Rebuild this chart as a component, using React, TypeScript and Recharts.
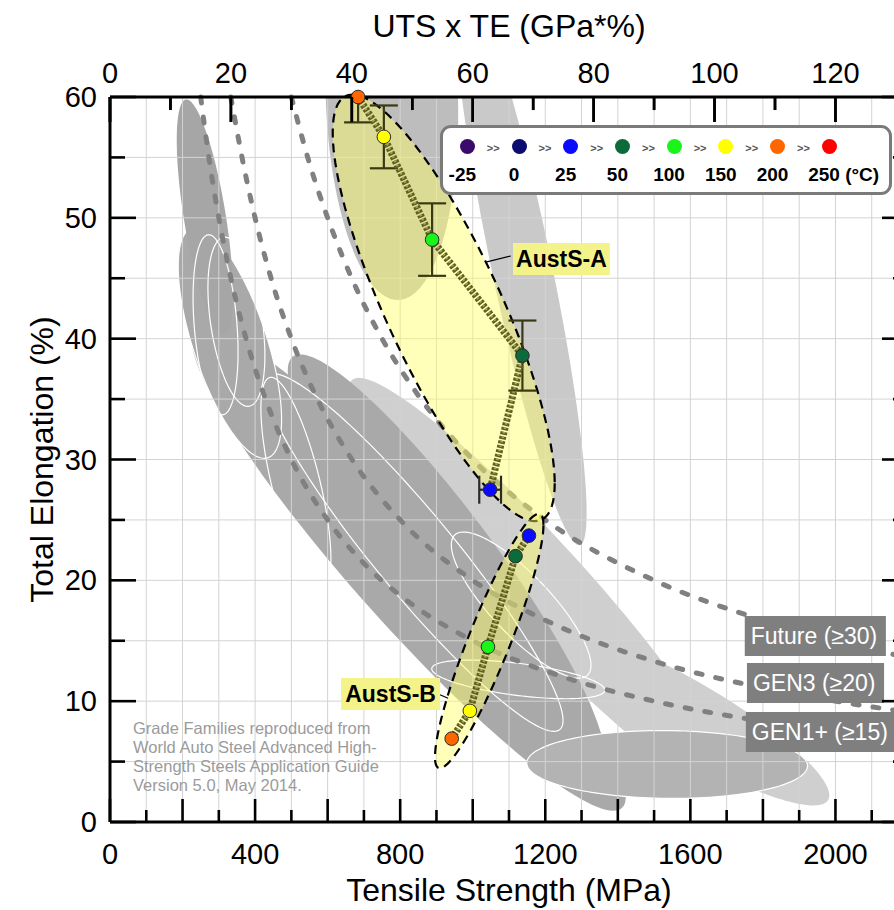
import React from 'react';
import { ComposedChart, XAxis, YAxis, CartesianGrid, Line, Scatter, ErrorBar, ReferenceArea } from 'recharts';

const FONT = '"Liberation Sans", Arial, Helvetica, sans-serif';

// ---------- axis ticks ----------
const strengthTicks = [0, 100, 200, 300, 400, 500, 600, 700, 800, 900, 1000, 1100, 1200, 1300, 1400, 1500, 1600, 1700, 1800, 1900, 2000, 2100, 2200];
const elongationTicks = [0, 5, 10, 15, 20, 25, 30, 35, 40, 45, 50, 55, 60];
const utsTeTicks = [0, 10, 20, 30, 40, 50, 60, 70, 80, 90, 100, 110, 120, 130];
const STRENGTH_MAX = 2200;
const UTSTE_MAX = 132;

// ---------- temperature legend ----------
const temps = ['-25', '0', '25', '50', '100', '150', '200', '250'];
const tempColors = ['#3b0b6b', '#0c0c70', '#0a0aff', '#0b6b3a', '#19f519', '#ffff00', '#ff6600', '#ff0000'];

// ---------- AustS-A measurements ----------
const austSAStrength = [684, 755, 888, 1137, 1048];
const austSAElong = [60.0, 56.7, 48.2, 38.6, 27.5];
const austSATemp = ['200', '150', '100', '50', '25'];
const austSAErrY: (number | number[] | null)[] = [[2.1, 0], 2.6, 3.0, 2.9, null];
const austSAErrX: (number | null)[] = [null, null, null, null, 30];

// ---------- AustS-B measurements ----------
const austSBStrength = [1155, 1118, 1042, 992, 942];
const austSBElong = [23.7, 22.0, 14.5, 9.2, 6.9];
const austSBTemp = ['25', '50', '100', '150', '200'];

// ---------- UTS x TE iso-lines ----------
const gen1Strength = [250, 275, 300, 340, 375, 430, 500, 600, 700, 800, 1000, 1250, 1500, 1800, 2200];
const gen1Elong = [60, 54.5, 50, 44.1, 40, 34.9, 30, 25, 21.4, 18.75, 15, 12, 10, 8.33, 6.82];
const gen3Strength = [333, 370, 400, 450, 500, 570, 667, 800, 1000, 1200, 1500, 1800, 2200];
const gen3Elong = [60, 54.1, 50, 44.4, 40, 35.1, 30, 25, 20, 16.7, 13.3, 11.1, 9.09];
const futureStrength = [500, 550, 600, 680, 750, 850, 1000, 1200, 1500, 1800, 2200];
const futureElong = [60, 54.5, 50, 44.1, 40, 35.3, 30, 25, 20, 16.7, 13.6];

// ---------- grade family envelopes: strength range, elongation range, tilt ----------
const familyNames = ['H1', 'H2', 'F', 'E', 'P', 'Q', 'P2', 'L2', 'L1', 'D', 'I', 'J', 'W1', 'W2', 'W5'];
const familyStrength = [[659, 1709], [1237, 1983], [951, 1314], [594, 960], [226, 1422], [490, 1364], [426, 1249], [188, 473], [184, 339], [1149, 1923], [941, 1326], [887, 1364], [229, 353], [270, 427], [416, 609]];
const familyElong = [[2.47, 36.76], [1.37, 15.52], [22.9, 69.7], [43.2, 76.8], [0.93, 40.95], [4.1, 38.7], [7.5, 37.1], [30.1, 49.2], [40.3, 59.8], [1.95, 7.57], [11.9, 24.0], [10.2, 13.4], [33.7, 48.6], [34.4, 48.4], [19.2, 36.8]];
const familyTilt = [-0.949, -0.881, -0.885, -0.09, -0.942, -0.921, -0.939, -0.663, -0.655, -0.04, -0.824, -0.55, -0.3, -0.4, -0.708];

// ---------- AustS envelopes ----------
const austNames = ['AustS-A', 'AustS-B'];
const austStrength = [[614, 1226], [896, 1195]];
const austElong = [[24.9, 60.2], [4.45, 25.5]];
const austTilt = [-0.822, 0.91];

// ---------- annotation boxes ----------
const austLabelStrength = [[1111, 1378], [637, 910]];
const austLabelElong = [[45.27, 47.92], [9.27, 11.92]];
const austLeaderStrength = [[1039, 1105], [900, 932]];
const austLeaderElong = [[46.35, 46.84], [10.65, 10.24]];
const genLabels = ['Future (≥30)', 'GEN3 (≥20)', 'GEN1+ (≥15)'];
const genLabelStrength = [[1750, 2139], [1756, 2134], [1753, 2240]];
const genLabelElong = [[13.74, 17.05], [9.85, 13.16], [5.79, 9.1]];

const noteLines = ['Grade Families reproduced from', 'World Auto Steel Advanced High-', 'Strength Steels Application Guide', 'Version 5.0, May 2014.'];

// ---------- styles ----------
const familyStyle: Record<string, { fill: string; stroke?: string }> = {
  H1: { fill: '#cfcfcf' },
  H2: { fill: '#cfcfcf' },
  F: { fill: '#c9c9c9' },
  E: { fill: '#bdbdbd' },
  P: { fill: '#a9a9a9' },
  Q: { fill: '#a9a9a9' },
  P2: { fill: '#a9a9a9', stroke: '#ffffff' },
  L2: { fill: '#a9a9a9', stroke: '#ffffff' },
  L1: { fill: '#a6a6a6' },
  D: { fill: '#b3b3b3', stroke: '#ffffff' },
  I: { fill: 'none', stroke: '#ffffff' },
  J: { fill: 'none', stroke: '#ffffff' },
  W1: { fill: 'none', stroke: '#ffffff' },
  W2: { fill: 'none', stroke: '#ffffff' },
  W5: { fill: 'none', stroke: '#ffffff' },
};

const colorOf = (t: string) => tempColors[temps.indexOf(t)];

const zip = (xs: number[], ys: number[]) => xs.map((x, i) => ({ x, y: ys[i] }));

const austSAData = austSAStrength.map((x, i) => ({ x, y: austSAElong[i], t: austSATemp[i], ey: austSAErrY[i], ex: austSAErrX[i] }));
const austSBData = austSBStrength.map((x, i) => ({ x, y: austSBElong[i], t: austSBTemp[i] }));
const topAxisSpan = [{ x: utsTeTicks[0], y: 0 }, { x: utsTeTicks[utsTeTicks.length - 1], y: 0 }];

const ellipsePath = (x: number, y: number, w: number, h: number, rho: number) => {
  const cx = x + w / 2, cy = y + h / 2, a = w / 2, b = h / 2;
  const s = Math.sqrt(Math.max(0, 1 - rho * rho));
  const n = 144;
  let d = '';
  for (let i = 0; i < n; i++) {
    const t = (i / n) * Math.PI * 2;
    const px = cx + a * Math.cos(t);
    const py = cy + b * (rho * Math.cos(t) + s * Math.sin(t));
    d += (i === 0 ? 'M' : 'L') + px.toFixed(2) + ' ' + py.toFixed(2);
  }
  return d + 'Z';
};

type TickCfg = { orient: 'bottom' | 'top' | 'left' | 'right'; gap: number; majorStep: number; labelStep: number; majorLen: number; minorLen: number };
const isMult = (v: number, s: number) => s > 0 && Math.abs(v / s - Math.round(v / s)) < 1e-6;
const makeTick = (c: TickCfg) => (props: any) => {
  const x = Number(props.x), y = Number(props.y);
  const v = Number(props.payload.value);
  const len = isMult(v, c.majorStep) ? c.majorLen : c.minorLen;
  const lbl = isMult(v, c.labelStep);
  const ls = { stroke: '#000', strokeWidth: 2.6 };
  const ts = { fontFamily: FONT, fontSize: 29, fill: '#000' };
  if (c.orient === 'bottom') {
    const ay = y - c.gap;
    return (<g><line x1={x} x2={x} y1={ay} y2={ay - len} {...ls} />{lbl && <text x={x} y={y} textAnchor="middle" dominantBaseline="central" {...ts}>{v}</text>}</g>);
  }
  if (c.orient === 'top') {
    const ay = y + c.gap;
    return (<g><line x1={x} x2={x} y1={ay} y2={ay + len} {...ls} />{lbl && <text x={x} y={y} textAnchor="middle" dominantBaseline="central" {...ts}>{v}</text>}</g>);
  }
  if (c.orient === 'left') {
    const ax = x + c.gap;
    return (<g><line x1={ax} x2={ax + len} y1={y} y2={y} {...ls} />{lbl && <text x={x} y={y} textAnchor="end" dominantBaseline="central" {...ts}>{v}</text>}</g>);
  }
  const ax = x - c.gap;
  return (<g><line x1={ax} x2={ax - len} y1={y} y2={y} {...ls} /></g>);
};

const bottomTick = makeTick({ orient: 'bottom', gap: 32, majorStep: 200, labelStep: 400, majorLen: 23, minorLen: 12 });
const topTick = makeTick({ orient: 'top', gap: 24, majorStep: 20, labelStep: 20, majorLen: 25, minorLen: 13 });
const leftTick = makeTick({ orient: 'left', gap: 13, majorStep: 10, labelStep: 10, majorLen: 26, minorLen: 15 });
const rightTick = makeTick({ orient: 'right', gap: 0, majorStep: 10, labelStep: 0, majorLen: 26, minorLen: 15 });

// inward top-axis tick marks hanging from the top frame (drop in % elongation)
const TOP_MAJOR_DROP = 2.07;
const TOP_MINOR_DROP = 1.08;

const marker = (props: any) => (
  <circle cx={props.cx} cy={props.cy} r={6.8} fill={colorOf(props.payload.t)} stroke="#2a2a2a" strokeWidth={1} />
);
const noMarker = () => <g />;

const titleStyle = { fontFamily: FONT, fontSize: 32, fill: '#000' };
const dashStyle = { stroke: '#808080', strokeWidth: 5, strokeDasharray: '6 14', strokeLinecap: 'round' as const };

export default function App() {
  const yTop = elongationTicks[elongationTicks.length - 1];
  const perUnit = STRENGTH_MAX / UTSTE_MAX;
  return (
    <div style={{ position: 'absolute', left: 0, top: 0, width: 894, height: 910, overflow: 'hidden', background: '#fff', fontFamily: FONT }}>
      <ComposedChart width={920} height={910} margin={{ top: 0, right: 0, bottom: 0, left: 0 }}>
        {familyNames.map((name, i) => {
          const st = familyStyle[name];
          return (
            <ReferenceArea
              key={name}
              x1={familyStrength[i][0]} x2={familyStrength[i][1]}
              y1={familyElong[i][0]} y2={familyElong[i][1]}
              ifOverflow="hidden"
              zIndex={-200 + i}
              shape={(p: any) => (
                <path d={ellipsePath(p.x, p.y, p.width, p.height, -familyTilt[i])} fill={st.fill} stroke={st.stroke || 'none'} strokeWidth={1.2} clipPath={p.clipPath} />
              )}
            />
          );
        })}

        <CartesianGrid stroke="#d3d3d3" strokeWidth={1} zIndex={-100} />

        <Line xAxisId="top" data={topAxisSpan} dataKey="y" stroke="none" dot={false} activeDot={false} isAnimationActive={false} legendType="none" />

        <Line data={zip(gen1Strength, gen1Elong)} dataKey="y" type="monotone" {...dashStyle} dot={false} activeDot={false} isAnimationActive={false} zIndex={-90} />
        <Line data={zip(gen3Strength, gen3Elong)} dataKey="y" type="monotone" {...dashStyle} dot={false} activeDot={false} isAnimationActive={false} zIndex={-90} />
        <Line data={zip(futureStrength, futureElong)} dataKey="y" type="monotone" {...dashStyle} dot={false} activeDot={false} isAnimationActive={false} zIndex={-90} />

        {austNames.map((name, i) => (
          <ReferenceArea
            key={name}
            x1={austStrength[i][0]} x2={austStrength[i][1]}
            y1={austElong[i][0]} y2={austElong[i][1]}
            ifOverflow="visible"
            zIndex={-80}
            shape={(p: any) => (
              <path d={ellipsePath(p.x, p.y, p.width, p.height, -austTilt[i])} fill="#ffff66" fillOpacity={0.45} stroke="#000" strokeWidth={2.2} strokeDasharray="9 6" />
            )}
          />
        ))}

        {austNames.map((name, i) => (
          <Line key={'lead' + name} data={zip(austLeaderStrength[i], austLeaderElong[i])} dataKey="y" type="linear" stroke="#000" strokeWidth={1.2} dot={false} activeDot={false} isAnimationActive={false} zIndex={-70} />
        ))}

        <Scatter data={austSAData} dataKey="y" shape={noMarker} line={{ stroke: '#5f5f20', strokeWidth: 7, strokeDasharray: '3 1.6' }} isAnimationActive={false} />
        <Scatter data={austSBData} dataKey="y" shape={noMarker} line={{ stroke: '#5f5f20', strokeWidth: 7, strokeDasharray: '3 1.6' }} isAnimationActive={false} />
        <Scatter data={austSAData} dataKey="y" shape={marker} line={{ stroke: '#a5a555', strokeWidth: 2.5, strokeDasharray: '1.6 3' }} isAnimationActive={false}>
          <ErrorBar dataKey="ey" direction="y" width={14} stroke="#3a3a12" strokeWidth={2.2} />
          <ErrorBar dataKey="ex" direction="x" width={14} stroke="#2a2a2a" strokeWidth={2.2} />
        </Scatter>
        <Scatter data={austSBData} dataKey="y" shape={marker} line={{ stroke: '#a5a555', strokeWidth: 2.5, strokeDasharray: '1.6 3' }} isAnimationActive={false} />

        {utsTeTicks.map((v) => {
          const m = v * perUnit;
          return (
            <ReferenceArea
              key={'tt' + v}
              x1={m - 0.5} x2={m + 0.5}
              y1={yTop - (isMult(v, 20) ? TOP_MAJOR_DROP : TOP_MINOR_DROP)} y2={yTop}
              ifOverflow="visible"
              zIndex={650}
              shape={(p: any) => (
                <line x1={p.x + p.width / 2} x2={p.x + p.width / 2} y1={p.y} y2={p.y + p.height} stroke="#000" strokeWidth={2.6} />
              )}
            />
          );
        })}

        {austNames.map((name, i) => (
          <ReferenceArea
            key={'lbl' + name}
            x1={austLabelStrength[i][0]} x2={austLabelStrength[i][1]}
            y1={austLabelElong[i][0]} y2={austLabelElong[i][1]}
            ifOverflow="visible"
            zIndex={700}
            fill="#f3f38a" fillOpacity={1} stroke="none"
            label={{ value: name, position: 'center', fill: '#000', fontSize: 23, fontWeight: 'bold', fontFamily: FONT }}
          />
        ))}
        {genLabels.map((name, i) => (
          <ReferenceArea
            key={name}
            x1={genLabelStrength[i][0]} x2={genLabelStrength[i][1]}
            y1={genLabelElong[i][0]} y2={genLabelElong[i][1]}
            ifOverflow="visible"
            zIndex={700}
            fill="#7f7f7f" fillOpacity={1} stroke="none"
            label={{ value: name, position: 'insideLeft', offset: 6, fill: '#ffffff', fontSize: 23, fontFamily: FONT }}
          />
        ))}

        <XAxis dataKey="x" type="number" domain={[0, STRENGTH_MAX]} ticks={strengthTicks} interval={0} height={88} tickSize={0} tickMargin={32} tickLine={false}
          tick={bottomTick} axisLine={{ stroke: '#000', strokeWidth: 3 }}
          label={{ value: 'Tensile Strength (MPa)', position: 'insideBottom', offset: 9, style: titleStyle }} />
        <XAxis xAxisId="top" dataKey="x" orientation="top" type="number" domain={[0, UTSTE_MAX]} allowDataOverflow ticks={utsTeTicks} interval={0} height={97} tickSize={0} tickMargin={24} tickLine={false}
          tick={topTick} axisLine={{ stroke: '#000', strokeWidth: 3 }}
          label={{ value: 'UTS x TE (GPa*%)', position: 'insideTop', offset: 14, style: titleStyle }} />
        <YAxis type="number" domain={[0, 60]} ticks={elongationTicks} interval={0} width={110} tickSize={0} tickMargin={13} tickLine={false}
          tick={leftTick} axisLine={{ stroke: '#000', strokeWidth: 3 }}
          label={{ value: 'Total Elongation (%)', angle: -90, position: 'insideLeft', offset: 42, style: { ...titleStyle, textAnchor: 'middle' } }} />
        <YAxis yAxisId="right" orientation="right" type="number" domain={[0, 60]} allowDataOverflow ticks={elongationTicks} interval={0} width={12} tickSize={0} tickMargin={0} tickLine={false}
          tick={rightTick} axisLine={{ stroke: '#000', strokeWidth: 3 }} />
      </ComposedChart>

      <div style={{ position: 'absolute', left: 440, top: 125, width: 452, height: 70, boxSizing: 'border-box', border: '3px solid #7a7a7a', borderRadius: 11, background: '#fff' }}>
        {temps.map((t, i) => {
          const cx = 467.3 + i * 51.7 - 443;
          return (
            <React.Fragment key={t}>
              <div style={{ position: 'absolute', left: cx - 7.5, top: 146.7 - 128 - 7.5, width: 15, height: 15, borderRadius: '50%', background: tempColors[i] }} />
              {i < temps.length - 1 && (
                <div style={{ position: 'absolute', left: cx + 26 - 10, top: 148 - 128 - 8, width: 20, textAlign: 'center', fontSize: 11, fontWeight: 'bold', color: '#555', lineHeight: '16px' }}>{'>>'}</div>
              )}
              {i < temps.length - 1 ? (
                <div style={{ position: 'absolute', left: cx - 5 - 30, top: 175 - 128 - 11, width: 60, textAlign: 'center', fontSize: 19, fontWeight: 'bold', color: '#000', lineHeight: '22px' }}>{t}</div>
              ) : (
                <div style={{ position: 'absolute', left: cx - 21, top: 175 - 128 - 11, whiteSpace: 'nowrap', fontSize: 19, fontWeight: 'bold', color: '#000', lineHeight: '22px' }}>{t + ' (°C)'}</div>
              )}
            </React.Fragment>
          );
        })}
      </div>

      <div style={{ position: 'absolute', left: 133, top: 718.5, fontSize: 16.5, lineHeight: '19.3px', color: '#9b9b9b', whiteSpace: 'nowrap' }}>
        {noteLines.map((l) => <div key={l}>{l}</div>)}
      </div>
    </div>
  );
}
